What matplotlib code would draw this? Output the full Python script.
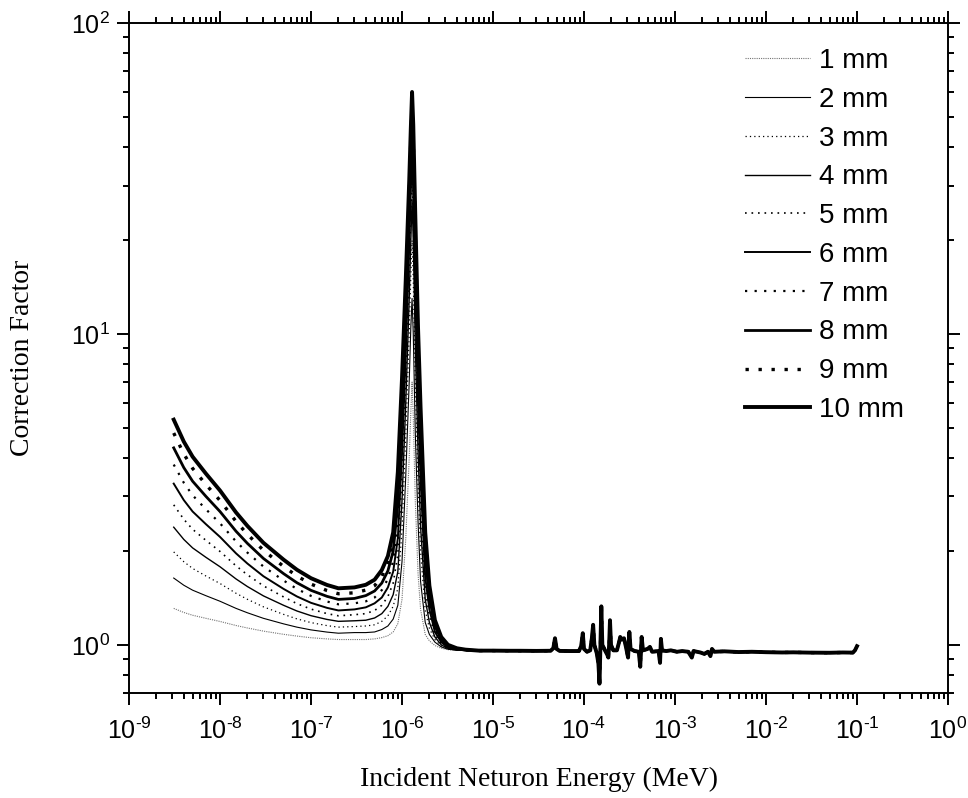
import matplotlib
matplotlib.use("Agg")
import matplotlib.pyplot as plt
import numpy as np
from matplotlib.ticker import LogLocator, NullFormatter, FuncFormatter

plt.rcParams['font.family'] = ['Liberation Sans', 'DejaVu Sans']
plt.rcParams['mathtext.fontset'] = 'custom'
plt.rcParams['mathtext.rm'] = 'Liberation Sans'
plt.rcParams['mathtext.it'] = 'Liberation Sans:italic'
plt.rcParams['mathtext.bf'] = 'Liberation Sans:bold'

# ---------------- data ----------------
labels = ['1 mm', '2 mm', '3 mm', '4 mm', '5 mm', '6 mm', '7 mm', '8 mm', '9 mm', '10 mm']

# low-energy + resonance region, shared energy grid (MeV)
energy_low = [3.1e-9, 4e-9, 5e-9, 7e-9, 1e-8, 1.5e-8, 2e-8, 3e-8, 5e-8, 7e-8, 1e-7, 1.5e-7, 2e-7,
              3e-7, 4e-7, 5e-7, 6e-7, 7e-7, 8e-7, 9e-7, 1.0e-6, 1.1e-6, 1.2e-6, 1.25e-6, 1.29e-6,
              1.33e-6, 1.4e-6, 1.5e-6, 1.6e-6, 1.8e-6, 2.0e-6, 2.3e-6, 2.7e-6, 3.2e-6, 4e-6, 5e-6]

cf_1mm = [1.31, 1.271, 1.245, 1.217, 1.189, 1.154, 1.133, 1.107, 1.081, 1.067, 1.054, 1.045, 1.04,
          1.04, 1.04, 1.045, 1.055, 1.07, 1.10, 1.17, 1.4, 2.2, 4.0, 5.6, 7.0,
          5.4, 2.9, 1.7, 1.3, 1.08, 1.03, 0.995, 0.975, 0.965, 0.96, 0.96]
cf_2mm = [1.64, 1.555, 1.499, 1.439, 1.381, 1.310, 1.268, 1.217, 1.168, 1.140, 1.117, 1.099, 1.09,
          1.095, 1.095, 1.10, 1.12, 1.15, 1.21, 1.34, 1.85, 3.5, 7.0, 10.5, 13.0,
          10.0, 4.8, 2.5, 1.6, 1.18, 1.08, 1.02, 0.985, 0.968, 0.961, 0.96]
cf_3mm = [1.99, 1.851, 1.761, 1.665, 1.575, 1.465, 1.401, 1.325, 1.253, 1.212, 1.179, 1.153, 1.14,
          1.145, 1.15, 1.16, 1.19, 1.24, 1.33, 1.52, 2.35, 4.7, 10.0, 15.5, 20.0,
          15.0, 7.0, 3.3, 2.0, 1.29, 1.13, 1.04, 0.99, 0.971, 0.962, 0.96]
cf_4mm = [2.39, 2.183, 2.050, 1.912, 1.783, 1.629, 1.540, 1.437, 1.340, 1.285, 1.241, 1.207, 1.19,
          1.195, 1.20, 1.22, 1.26, 1.33, 1.45, 1.72, 2.9, 6.0, 13.0, 20.0, 27.0,
          20.0, 9.2, 4.2, 2.4, 1.40, 1.18, 1.06, 1.0, 0.974, 0.963, 0.961]
cf_5mm = [2.82, 2.534, 2.353, 2.168, 1.997, 1.795, 1.680, 1.548, 1.426, 1.357, 1.303, 1.260, 1.24,
          1.25, 1.26, 1.29, 1.34, 1.43, 1.58, 1.95, 3.5, 7.3, 16.0, 25.0, 33.0,
          25.0, 11.5, 5.1, 2.9, 1.52, 1.24, 1.08, 1.01, 0.977, 0.964, 0.961]
cf_6mm = [3.30, 2.921, 2.684, 2.444, 2.224, 1.969, 1.826, 1.662, 1.513, 1.431, 1.365, 1.315, 1.29,
          1.30, 1.32, 1.36, 1.42, 1.53, 1.72, 2.2, 4.1, 8.6, 19.0, 29.0, 39.0,
          29.0, 13.5, 6.0, 3.4, 1.65, 1.30, 1.10, 1.02, 0.98, 0.966, 0.962]
cf_7mm = [3.80, 3.322, 3.027, 2.729, 2.460, 2.151, 1.980, 1.786, 1.610, 1.513, 1.437, 1.378, 1.35,
          1.36, 1.38, 1.42, 1.50, 1.63, 1.86, 2.5, 4.8, 10.0, 22.0, 34.0, 45.0,
          34.0, 16.0, 7.0, 4.0, 1.8, 1.36, 1.12, 1.03, 0.985, 0.968, 0.962]
cf_8mm = [4.30, 3.716, 3.359, 3.003, 2.684, 2.319, 2.120, 1.896, 1.694, 1.584, 1.497, 1.432, 1.40,
          1.41, 1.44, 1.49, 1.58, 1.73, 2.0, 2.85, 5.5, 11.5, 25.0, 38.0, 50.0,
          38.0, 18.5, 8.0, 4.5, 1.95, 1.42, 1.15, 1.04, 0.99, 0.97, 0.963]
cf_9mm = [4.80, 4.113, 3.694, 3.279, 2.912, 2.494, 2.268, 2.014, 1.787, 1.665, 1.568, 1.495, 1.46,
          1.47, 1.50, 1.55, 1.66, 1.83, 2.15, 3.2, 6.3, 13.0, 28.0, 42.0, 55.0,
          42.0, 21.0, 9.2, 5.1, 2.1, 1.48, 1.17, 1.05, 0.995, 0.972, 0.964]
cf_10mm = [5.30, 4.505, 4.028, 3.554, 3.136, 2.666, 2.413, 2.129, 1.879, 1.744, 1.638, 1.558, 1.52,
           1.53, 1.56, 1.62, 1.74, 1.93, 2.3, 3.6, 7.2, 15.0, 31.0, 46.0, 60.0,
           47.0, 24.0, 10.5, 5.8, 2.3, 1.55, 1.2, 1.06, 1.0, 0.975, 0.965]

# high-energy region (all thicknesses overlap here)
energy_high = [5e-6, 7e-6, 1e-5, 1.5e-5, 2e-5, 3e-5, 4.3e-5, 4.6e-5, 4.8e-5, 5.0e-5, 5.4e-5, 7e-5,
               8.8e-5, 9.3e-5, 9.7e-5, 1.0e-4, 1.08e-4, 1.17e-4, 1.22e-4, 1.26e-4, 1.3e-4, 1.38e-4,
               1.44e-4, 1.48e-4, 1.51e-4, 1.55e-4, 1.59e-4, 1.7e-4, 1.8e-4, 1.85e-4, 1.89e-4, 1.93e-4,
               1.98e-4, 2.1e-4, 2.3e-4, 2.45e-4, 2.5e-4, 2.6e-4, 2.75e-4, 2.9e-4, 3.05e-4, 3.15e-4,
               3.25e-4, 3.6e-4, 4.0e-4, 4.15e-4, 4.3e-4, 4.45e-4, 5e-4, 5.3e-4, 5.6e-4, 6.6e-4,
               6.85e-4, 7.0e-4, 7.2e-4, 8e-4, 9e-4, 1.05e-3, 1.2e-3, 1.4e-3, 1.53e-3, 1.6e-3,
               1.9e-3, 2.1e-3, 2.3e-3, 2.45e-3, 2.55e-3, 2.7e-3, 3.5e-3, 5e-3, 7e-3, 1e-2,
               1.5e-2, 2e-2, 3e-2, 5e-2, 7e-2, 9e-2, 9.5e-2, 1e-1]
cf_high = [0.962, 0.958, 0.958, 0.957, 0.957, 0.956, 0.957, 0.975, 1.05, 0.97, 0.956, 0.955,
           0.955, 0.99, 1.09, 0.97, 0.95, 0.96, 1.05, 1.16, 1.0, 0.94,
           0.87, 0.75, 0.95, 1.33, 1.0, 0.96, 0.93, 0.91, 1.0, 1.20,
           1.0, 0.96, 0.96, 1.03, 1.06, 1.04, 1.05, 0.98, 0.91, 1.10,
           0.97, 0.955, 0.95, 0.85, 1.06, 0.96, 0.97, 0.985, 0.95, 0.955,
           0.875, 1.045, 0.96, 0.955, 0.96, 0.95, 0.955, 0.95, 0.91, 0.955,
           0.945, 0.935, 0.95, 0.92, 0.97, 0.95, 0.953, 0.948, 0.95, 0.947,
           0.945, 0.946, 0.944, 0.943, 0.945, 0.944, 0.96, 0.99]

series_low = [cf_1mm, cf_2mm, cf_3mm, cf_4mm, cf_5mm, cf_6mm, cf_7mm, cf_8mm, cf_9mm, cf_10mm]

# ---------------- styles ----------------
styles = [
    dict(color='0.45', lw=0.8, ls=(0, (1, 1))),
    dict(color='black', lw=0.8, ls='-'),
    dict(color='black', lw=0.9, ls=(0, (1, 2.5))),
    dict(color='black', lw=1.0, ls='-'),
    dict(color='black', lw=1.2, ls=(0, (1, 2.9))),
    dict(color='black', lw=1.4, ls='-'),
    dict(color='black', lw=1.6, ls=(0, (1, 3.3))),
    dict(color='black', lw=2.0, ls='-'),
    dict(color='black', lw=2.4, ls=(0, (1, 2.9))),
    dict(color='black', lw=2.8, ls='-'),
]


def pow10_label(v, pos):
    if v <= 0:
        return ''
    e = int(round(np.log10(v)))
    if e < 0:
        return r'$\mathregular{10^{\text{-}%d}}$' % (-e)
    return r'$\mathregular{10^{%d}}$' % e


fig = plt.figure(figsize=(9.68, 7.98), dpi=100)
ax = fig.add_axes([129 / 968, 1 - 693 / 798, (948 - 129) / 968, (693 - 23) / 798])

for lab, ys, st in zip(labels, series_low, styles):
    xs = energy_low + energy_high[1:]
    yv = ys + cf_high[1:]
    ax.plot(xs, yv, color=st['color'], lw=st['lw'], linestyle=st['ls'], label=lab)

ax.set_xscale('log')
ax.set_yscale('log')
ax.set_xlim(1e-9, 1)
ax.set_ylim(0.7, 100)

ax.xaxis.set_major_locator(LogLocator(base=10, numticks=20))
ax.xaxis.set_minor_locator(LogLocator(base=10, subs=range(2, 10), numticks=20))
ax.yaxis.set_major_locator(LogLocator(base=10, numticks=20))
ax.yaxis.set_minor_locator(LogLocator(base=10, subs=range(2, 10), numticks=20))
ax.xaxis.set_minor_formatter(NullFormatter())
ax.yaxis.set_minor_formatter(NullFormatter())
ax.xaxis.set_major_formatter(FuncFormatter(pow10_label))
ax.yaxis.set_major_formatter(FuncFormatter(pow10_label))

ax.tick_params(which='both', direction='out', top=True, right=True, width=1.4, labelsize=18)
ax.tick_params(which='major', length=8.5)
ax.tick_params(which='minor', length=4.3)
ax.tick_params(axis='x', which='major', pad=9)
ax.tick_params(axis='y', which='major', pad=5)
for sp in ax.spines.values():
    sp.set_linewidth(1.4)

ax.set_xlabel('Incident Neturon Energy (MeV)', family=['Liberation Serif', 'DejaVu Serif'], fontsize=20, labelpad=17)
ax.set_ylabel('Correction Factor', family=['Liberation Serif', 'DejaVu Serif'], fontsize=20, labelpad=26)

leg = ax.legend(loc='upper left', bbox_to_anchor=(745 / 968, 1 - 48 / 798), bbox_transform=fig.transFigure,
                frameon=False, fontsize=20, handlelength=2.35, handletextpad=0.3, labelspacing=0.46,
                borderpad=0, borderaxespad=0)

fig.savefig('out.png', dpi=100)
